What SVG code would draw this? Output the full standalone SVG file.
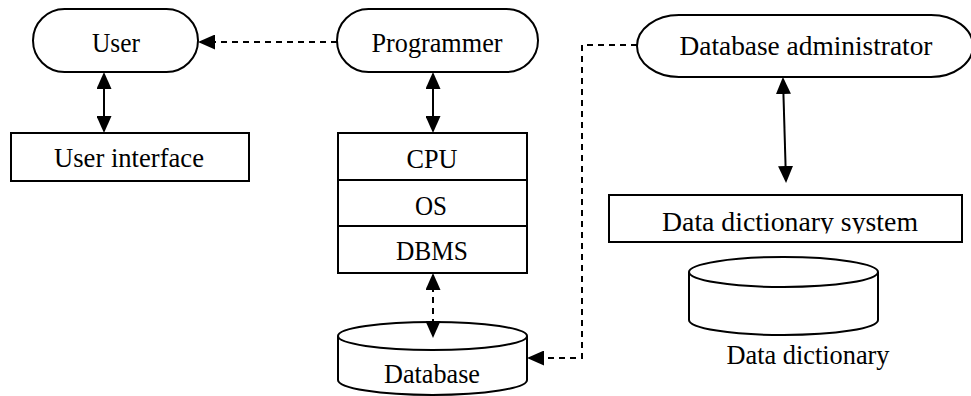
<svg xmlns="http://www.w3.org/2000/svg" width="971" height="396" viewBox="0 0 971 396">
  <style>
    .shape { fill: #ffffff; stroke: #000000; stroke-width: 2; }
    .lbl { font-family: "Liberation Serif", "Times New Roman", serif; font-size: 27px; fill: #000000; text-anchor: middle; }
    .lbl-lg { font-size: 28px; }
    .solid { fill: none; stroke: #000000; stroke-width: 2; }
    .dash { fill: none; stroke: #000000; stroke-width: 2; stroke-dasharray: 6 5; }
  </style>
  <defs>
    <marker id="head" viewBox="0 0 17 15" refX="15" refY="7.5" markerWidth="17" markerHeight="15" markerUnits="userSpaceOnUse" orient="auto-start-reverse">
      <path d="M0,0 L17,7.5 L0,15 Z" fill="#000000"/>
    </marker>
    <clipPath id="dds-clip">
      <rect x="609" y="195" width="353" height="38.5"/>
    </clipPath>
  </defs>

  <rect width="971" height="396" fill="#ffffff"/>

  <!-- people -->
  <g id="user">
    <rect class="shape" x="33" y="9" width="165" height="63" rx="31.5" ry="31.5"/>
    <text class="lbl" x="116" y="52" textLength="48" lengthAdjust="spacingAndGlyphs">User</text>
  </g>
  <g id="programmer">
    <rect class="shape" x="337" y="9" width="201" height="63" rx="31.5" ry="31.5"/>
    <text class="lbl" x="437" y="52" textLength="131" lengthAdjust="spacingAndGlyphs">Programmer</text>
  </g>
  <g id="dba">
    <rect class="shape" x="637" y="15" width="336" height="62" rx="42" ry="31"/>
    <text class="lbl" x="806" y="55" textLength="253" lengthAdjust="spacingAndGlyphs">Database administrator</text>
  </g>

  <!-- user interface -->
  <g id="user-interface">
    <rect class="shape" x="11" y="133" width="238" height="48"/>
    <text class="lbl" x="129" y="167" textLength="150" lengthAdjust="spacingAndGlyphs">User interface</text>
  </g>

  <!-- system stack -->
  <g id="cpu">
    <rect class="shape" x="338" y="133" width="189" height="47"/>
    <text class="lbl" x="432" y="168" textLength="51" lengthAdjust="spacingAndGlyphs">CPU</text>
  </g>
  <g id="os">
    <rect class="shape" x="338" y="180" width="189" height="46"/>
    <text class="lbl" x="431" y="215" textLength="32" lengthAdjust="spacingAndGlyphs">OS</text>
  </g>
  <g id="dbms">
    <rect class="shape" x="338" y="226" width="189" height="47"/>
    <text class="lbl" x="432" y="260" textLength="72" lengthAdjust="spacingAndGlyphs">DBMS</text>
  </g>

  <!-- database cylinder -->
  <g id="database">
    <path class="shape" d="M338,336 L338,380 A94.5,15 0 0 0 527,380 L527,336"/>
    <ellipse class="shape" cx="432.5" cy="336" rx="94.5" ry="14"/>
    <text class="lbl" x="432" y="383" textLength="96" lengthAdjust="spacingAndGlyphs">Database</text>
  </g>

  <!-- data dictionary system -->
  <g id="dd-system">
    <rect class="shape" x="609" y="195" width="353" height="47"/>
    <text class="lbl lbl-lg" x="790" y="231" textLength="256" lengthAdjust="spacingAndGlyphs" clip-path="url(#dds-clip)">Data dictionary system</text>
  </g>

  <!-- data dictionary cylinder -->
  <g id="data-dictionary">
    <path class="shape" d="M689,272 L689,320 A94.5,15 0 0 0 878,320 L878,272"/>
    <ellipse class="shape" cx="783.5" cy="272" rx="94.5" ry="15"/>
    <text class="lbl lbl-lg" x="808" y="364" textLength="163" lengthAdjust="spacingAndGlyphs">Data dictionary</text>
  </g>

  <!-- connectors, drawn over the shapes -->
  <g id="connectors">
    <line class="solid" x1="104" y1="74" x2="104" y2="131" marker-start="url(#head)" marker-end="url(#head)"/>
    <line class="solid" x1="433" y1="74" x2="433" y2="131" marker-start="url(#head)" marker-end="url(#head)"/>
    <line class="solid" x1="783" y1="79" x2="786" y2="181" marker-start="url(#head)" marker-end="url(#head)"/>
    <line class="dash" x1="337" y1="42" x2="200" y2="42" marker-end="url(#head)"/>
    <line class="dash" x1="433" y1="275" x2="433" y2="336" marker-start="url(#head)" marker-end="url(#head)"/>
    <polyline class="dash" points="637,45 582,45 582,358 529,358" marker-end="url(#head)"/>
  </g>
</svg>
